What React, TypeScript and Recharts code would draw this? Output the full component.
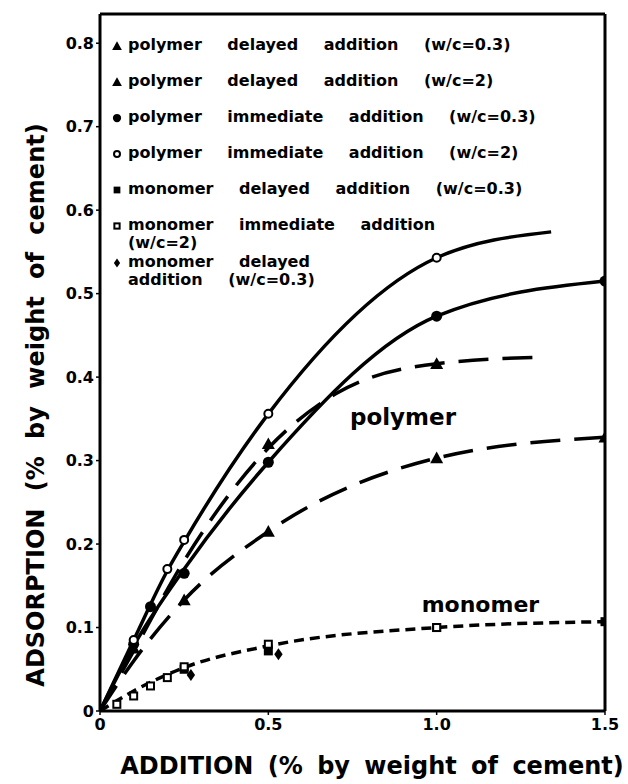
import { ComposedChart, Line, Scatter, XAxis, YAxis, ReferenceLine, ReferenceDot, Label } from 'recharts'

// axis ticks
const xTicks = [0, 0.5, 1.0, 1.5]
const yTicks = [0, 0.1, 0.2, 0.3, 0.4, 0.5, 0.6, 0.7, 0.8]

// drawn curves
const curveImmW2 = [
  { x: 0, y: 0 }, { x: 0.1, y: 0.085 }, { x: 0.2, y: 0.168 }, { x: 0.25, y: 0.203 },
  { x: 0.5, y: 0.356 }, { x: 1.0, y: 0.543 }, { x: 1.34, y: 0.574 },
]
const curveImmW03 = [
  { x: 0, y: 0 }, { x: 0.1, y: 0.078 }, { x: 0.25, y: 0.17 }, { x: 0.5, y: 0.298 },
  { x: 1.0, y: 0.473 }, { x: 1.5, y: 0.515 },
]
const curveDelW03 = [
  { x: 0, y: 0 }, { x: 0.1, y: 0.072 }, { x: 0.25, y: 0.18 }, { x: 0.5, y: 0.315 },
  { x: 0.7, y: 0.38 }, { x: 1.0, y: 0.416 }, { x: 1.32, y: 0.424 },
]
const curveDelW2 = [
  { x: 0, y: 0 }, { x: 0.1, y: 0.06 }, { x: 0.25, y: 0.133 }, { x: 0.5, y: 0.215 },
  { x: 1.0, y: 0.303 }, { x: 1.5, y: 0.328 },
]
const curveMonomer = [
  { x: 0, y: 0 }, { x: 0.1, y: 0.024 }, { x: 0.25, y: 0.052 }, { x: 0.5, y: 0.078 },
  { x: 1.0, y: 0.1 }, { x: 1.5, y: 0.107 },
]

// measured points
const triDelW03 = [{ x: 0.1, y: 0.075 }, { x: 0.5, y: 0.32 }, { x: 1.0, y: 0.416 }]
const triDelW2 = [{ x: 0.25, y: 0.133 }, { x: 0.5, y: 0.215 }, { x: 1.0, y: 0.303 }, { x: 1.5, y: 0.328 }]
const dotImmW03 = [
  { x: 0.1, y: 0.08 }, { x: 0.15, y: 0.125 }, { x: 0.25, y: 0.165 },
  { x: 0.5, y: 0.298 }, { x: 1.0, y: 0.473 }, { x: 1.5, y: 0.515 },
]
const ringImmW2 = [
  { x: 0.1, y: 0.085 }, { x: 0.2, y: 0.17 }, { x: 0.25, y: 0.205 },
  { x: 0.5, y: 0.356 }, { x: 1.0, y: 0.543 },
]
const sqMonDel = [{ x: 0.25, y: 0.05 }, { x: 0.5, y: 0.072 }, { x: 1.0, y: 0.1 }, { x: 1.5, y: 0.107 }]
const sqMonImm = [
  { x: 0.05, y: 0.008 }, { x: 0.1, y: 0.018 }, { x: 0.15, y: 0.03 }, { x: 0.2, y: 0.04 },
  { x: 0.25, y: 0.053 }, { x: 0.5, y: 0.08 }, { x: 1.0, y: 0.1 },
]
const diaMonDel = [{ x: 0.27, y: 0.043 }, { x: 0.53, y: 0.068 }]

const legendRows = [
  { marker: 'tri', lines: ['polymer delayed addition (w/c=0.3)'] },
  { marker: 'tri', lines: ['polymer delayed addition (w/c=2)'] },
  { marker: 'dot', lines: ['polymer immediate addition (w/c=0.3)'] },
  { marker: 'ring', lines: ['polymer immediate addition (w/c=2)'] },
  { marker: 'sq', lines: ['monomer delayed addition (w/c=0.3)'] },
  { marker: 'osq', lines: ['monomer immediate addition', '(w/c=2)'] },
  { marker: 'dia', lines: ['monomer delayed', 'addition (w/c=0.3)'] },
]

const FONT = '"DejaVu Sans", sans-serif'
const INK = '#000'

function Glyph({ kind, cx, cy, s = 1 }: { kind: string; cx: number; cy: number; s?: number }) {
  if (kind === 'tri') {
    const h = 6.5 * s
    return <polygon points={`${cx},${cy - h} ${cx - h},${cy + h * 0.8} ${cx + h},${cy + h * 0.8}`} fill={INK} />
  }
  if (kind === 'dot') return <circle cx={cx} cy={cy} r={5.5 * s} fill={INK} />
  if (kind === 'ring') return <circle cx={cx} cy={cy} r={4 * s} fill="#fff" stroke={INK} strokeWidth={2} />
  if (kind === 'sq') return <rect x={cx - 4.5 * s} y={cy - 4.5 * s} width={9 * s} height={9 * s} fill={INK} />
  if (kind === 'osq')
    return <rect x={cx - 3.5 * s} y={cy - 3.5 * s} width={7 * s} height={7 * s} fill="#fff" stroke={INK} strokeWidth={2} />
  const d = 6 * s
  return <polygon points={`${cx},${cy - d} ${cx + d * 0.7},${cy} ${cx},${cy + d} ${cx - d * 0.7},${cy}`} fill={INK} />
}

const shape = (kind: string) => (p: any) => <Glyph kind={kind} cx={p.cx} cy={p.cy} />

const fmt = (v: number) => (v === 0 ? '0' : v.toFixed(1))
const tickStyle = { fontFamily: FONT, fontWeight: 700, fontSize: 16, fill: INK }

function Legend() {
  return (
    <div style={{ position: 'absolute', left: 110, top: 36, fontFamily: FONT, fontWeight: 700, fontSize: 16, lineHeight: '18px', wordSpacing: 20 }}>
      {legendRows.map((r, i) => (
        <div key={i} style={{ display: 'flex', marginBottom: r.lines.length > 1 ? 1 : 18 }}>
          <svg width={18} height={18} style={{ flex: 'none' }}>
            <Glyph kind={r.marker} cx={7} cy={10} s={0.75} />
          </svg>
          <div>
            {r.lines.map((l, j) => (
              <div key={j} style={{ whiteSpace: 'nowrap' }}>{l}</div>
            ))}
          </div>
        </div>
      ))}
    </div>
  )
}

export default function App() {
  return (
    <div style={{ position: 'absolute', left: 0, top: 0, width: 628, height: 784, background: '#fff' }}>
      <ComposedChart width={628} height={784} margin={{ top: 14, right: 23, bottom: 0, left: 0 }}>
        <XAxis
          type="number"
          dataKey="x"
          domain={[0, 1.5]}
          ticks={xTicks}
          tickFormatter={fmt}
          height={73}
          tick={tickStyle}
          tickSize={4}
          tickMargin={4}
          axisLine={{ stroke: INK, strokeWidth: 3 }}
          tickLine={{ stroke: INK, strokeWidth: 1.5 }}
          allowDataOverflow
        >
          <Label
            content={() => (
              <text x={372} y={774} textAnchor="middle" fontFamily={FONT} fontWeight={700} fontSize={24} fill={INK} style={{ wordSpacing: 6 }}>
                ADDITION (% by weight of cement)
              </text>
            )}
          />
        </XAxis>
        <YAxis
          type="number"
          domain={[0, 0.835]}
          ticks={yTicks}
          tickFormatter={fmt}
          width={100}
          tick={tickStyle}
          tickSize={4}
          tickMargin={2}
          axisLine={{ stroke: INK, strokeWidth: 3 }}
          tickLine={{ stroke: INK, strokeWidth: 1.5 }}
          allowDataOverflow
        >
          <Label
            content={() => (
              <text
                x={0}
                y={0}
                transform="translate(44 405) rotate(-90)"
                textAnchor="middle"
                fontFamily={FONT}
                fontWeight={700}
                fontSize={24}
                fill={INK}
                style={{ wordSpacing: 9 }}
              >
                ADSORPTION (% by weight of cement)
              </text>
            )}
          />
        </YAxis>
        <ReferenceLine y={0.835} stroke={INK} strokeWidth={3} />
        <ReferenceLine x={1.5} stroke={INK} strokeWidth={3} />

        <Line data={curveImmW2} dataKey="y" type="monotone" stroke={INK} strokeWidth={3.5} dot={false} isAnimationActive={false} />
        <Line data={curveImmW03} dataKey="y" type="monotone" stroke={INK} strokeWidth={3.5} dot={false} isAnimationActive={false} />
        <Line data={curveDelW03} dataKey="y" type="monotone" stroke={INK} strokeWidth={3.5} strokeDasharray="30 14" dot={false} isAnimationActive={false} />
        <Line data={curveDelW2} dataKey="y" type="monotone" stroke={INK} strokeWidth={3.5} strokeDasharray="30 14" dot={false} isAnimationActive={false} />
        <Line data={curveMonomer} dataKey="y" type="monotone" stroke={INK} strokeWidth={3.5} strokeDasharray="10 6" dot={false} isAnimationActive={false} />

        <Scatter data={triDelW03} dataKey="y" shape={shape('tri')} isAnimationActive={false} />
        <Scatter data={triDelW2} dataKey="y" shape={shape('tri')} isAnimationActive={false} />
        <Scatter data={dotImmW03} dataKey="y" shape={shape('dot')} isAnimationActive={false} />
        <Scatter data={ringImmW2} dataKey="y" shape={shape('ring')} isAnimationActive={false} />
        <Scatter data={sqMonDel} dataKey="y" shape={shape('sq')} isAnimationActive={false} />
        <Scatter data={sqMonImm} dataKey="y" shape={shape('osq')} isAnimationActive={false} />
        <Scatter data={diaMonDel} dataKey="y" shape={shape('dia')} isAnimationActive={false} />

        <ReferenceDot x={0.9} y={0.353} r={0} ifOverflow="visible">
          <Label value="polymer" position="center" fontFamily={FONT} fontWeight={700} fontSize={23} fill={INK} />
        </ReferenceDot>
        <ReferenceDot x={1.13} y={0.128} r={0} ifOverflow="visible">
          <Label value="monomer" position="center" fontFamily={FONT} fontWeight={700} fontSize={22} fill={INK} />
        </ReferenceDot>
      </ComposedChart>
      <Legend />
    </div>
  )
}
